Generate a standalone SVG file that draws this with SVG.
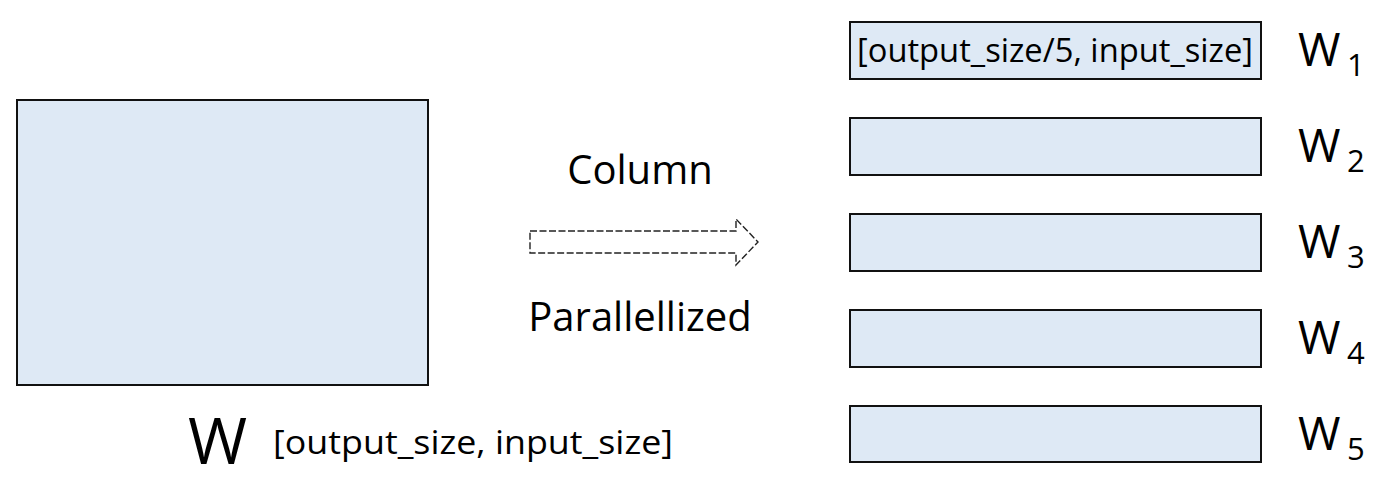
<svg xmlns="http://www.w3.org/2000/svg" width="1390" height="488" viewBox="0 0 1390 488">
  <style>
    .block { fill: #DEE9F5; stroke: #111; stroke-width: 2; }
    .txt { font-family: "Open Sans", "Noto Sans", sans-serif; fill: #000; }
    .dim { font-size: 33px; }
    .cap { font-size: 40px; }
    .wlab { font-size: 46px; }
    .wsub { font-size: 31px; }
  </style>
  <rect width="1390" height="488" fill="#fff"/>

  <!-- full weight matrix -->
  <g id="node-W">
    <rect class="block" x="17" y="100" width="411" height="285" stroke-width="2.5"/>
    <text class="txt" x="188" y="464" font-size="64">W</text>
    <text class="txt dim" x="273" y="454" textLength="400" lengthAdjust="spacingAndGlyphs">[output_size, input_size]</text>
  </g>

  <!-- split operation -->
  <g id="connectors">
    <path d="M530,231 H736 V219 L758,242 L736,265 V253 H530 Z" fill="none" stroke="#222" stroke-width="1.4" stroke-dasharray="7 2.5"/>
    <text class="txt cap" x="640" y="184" text-anchor="middle">Column</text>
    <text class="txt cap" x="640" y="331" text-anchor="middle">Parallellized</text>
  </g>

  <!-- column shards -->
  <g id="node-W1">
    <rect class="block" x="850" y="22" width="411" height="57"/>
    <text class="txt dim" x="857" y="62" textLength="396" lengthAdjust="spacingAndGlyphs">[output_size/5, input_size]</text>
    <text class="txt wlab" x="1298" y="66">W</text>
    <text class="txt wsub" x="1347" y="76">1</text>
  </g>
  <g id="node-W2">
    <rect class="block" x="850" y="118" width="411" height="57"/>
    <text class="txt wlab" x="1298" y="162">W</text>
    <text class="txt wsub" x="1347" y="172">2</text>
  </g>
  <g id="node-W3">
    <rect class="block" x="850" y="214" width="411" height="57"/>
    <text class="txt wlab" x="1298" y="258">W</text>
    <text class="txt wsub" x="1347" y="268">3</text>
  </g>
  <g id="node-W4">
    <rect class="block" x="850" y="310" width="411" height="57"/>
    <text class="txt wlab" x="1298" y="354">W</text>
    <text class="txt wsub" x="1347" y="364">4</text>
  </g>
  <g id="node-W5">
    <rect class="block" x="850" y="406" width="411" height="56"/>
    <text class="txt wlab" x="1298" y="450">W</text>
    <text class="txt wsub" x="1347" y="460">5</text>
  </g>
</svg>
